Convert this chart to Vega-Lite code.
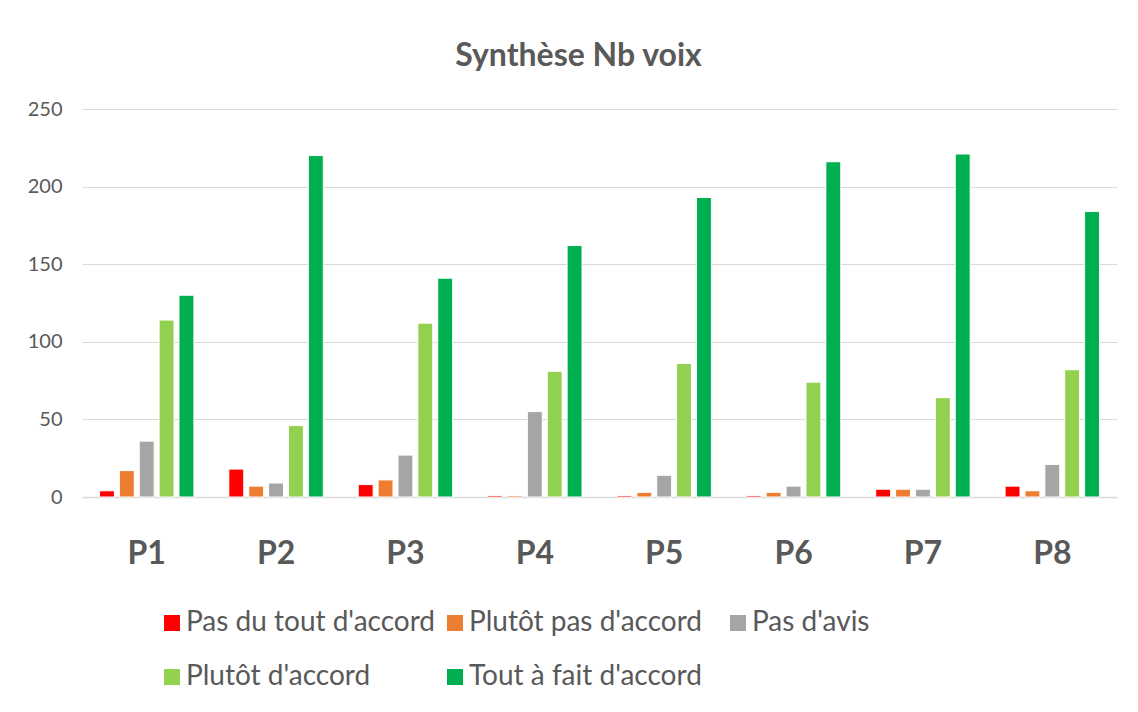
{
  "$schema": "https://vega.github.io/schema/vega-lite/v6.json",
  "autosize": "none",
  "width": 1035,
  "height": 388,
  "padding": {"left": 82, "top": 109, "right": 21, "bottom": 215},
  "background": "white",
  "title": {"text": "Synthèse Nb voix", "anchor": "middle", "dx": -21, "offset": 26, "font": "Lato", "fontSize": 32, "fontWeight": "bold", "color": "#595959"},
  "config": {"view": {"stroke": null}},
  "data": {"values": [
    {"q": "P1", "r": "Pas du tout d'accord", "v": 4},
    {"q": "P1", "r": "Plutôt pas d'accord", "v": 17},
    {"q": "P1", "r": "Pas d'avis", "v": 36},
    {"q": "P1", "r": "Plutôt d'accord", "v": 114},
    {"q": "P1", "r": "Tout à fait d'accord", "v": 130},
    {"q": "P2", "r": "Pas du tout d'accord", "v": 18},
    {"q": "P2", "r": "Plutôt pas d'accord", "v": 7},
    {"q": "P2", "r": "Pas d'avis", "v": 9},
    {"q": "P2", "r": "Plutôt d'accord", "v": 46},
    {"q": "P2", "r": "Tout à fait d'accord", "v": 220},
    {"q": "P3", "r": "Pas du tout d'accord", "v": 8},
    {"q": "P3", "r": "Plutôt pas d'accord", "v": 11},
    {"q": "P3", "r": "Pas d'avis", "v": 27},
    {"q": "P3", "r": "Plutôt d'accord", "v": 112},
    {"q": "P3", "r": "Tout à fait d'accord", "v": 141},
    {"q": "P4", "r": "Pas du tout d'accord", "v": 1},
    {"q": "P4", "r": "Plutôt pas d'accord", "v": 1},
    {"q": "P4", "r": "Pas d'avis", "v": 55},
    {"q": "P4", "r": "Plutôt d'accord", "v": 81},
    {"q": "P4", "r": "Tout à fait d'accord", "v": 162},
    {"q": "P5", "r": "Pas du tout d'accord", "v": 1},
    {"q": "P5", "r": "Plutôt pas d'accord", "v": 3},
    {"q": "P5", "r": "Pas d'avis", "v": 14},
    {"q": "P5", "r": "Plutôt d'accord", "v": 86},
    {"q": "P5", "r": "Tout à fait d'accord", "v": 193},
    {"q": "P6", "r": "Pas du tout d'accord", "v": 1},
    {"q": "P6", "r": "Plutôt pas d'accord", "v": 3},
    {"q": "P6", "r": "Pas d'avis", "v": 7},
    {"q": "P6", "r": "Plutôt d'accord", "v": 74},
    {"q": "P6", "r": "Tout à fait d'accord", "v": 216},
    {"q": "P7", "r": "Pas du tout d'accord", "v": 5},
    {"q": "P7", "r": "Plutôt pas d'accord", "v": 5},
    {"q": "P7", "r": "Pas d'avis", "v": 5},
    {"q": "P7", "r": "Plutôt d'accord", "v": 64},
    {"q": "P7", "r": "Tout à fait d'accord", "v": 221},
    {"q": "P8", "r": "Pas du tout d'accord", "v": 7},
    {"q": "P8", "r": "Plutôt pas d'accord", "v": 4},
    {"q": "P8", "r": "Pas d'avis", "v": 21},
    {"q": "P8", "r": "Plutôt d'accord", "v": 82},
    {"q": "P8", "r": "Tout à fait d'accord", "v": 184}
  ]},
  "mark": {"type": "bar", "stroke": "white", "strokeWidth": 1},
  "encoding": {
    "x": {
      "field": "q", "type": "nominal", "title": null,
      "scale": {"paddingInner": 0.27, "paddingOuter": 0.135},
      "axis": {"labelAngle": 0, "labelFont": "Lato", "labelFontSize": 32, "labelFontWeight": "bold", "labelColor": "#595959", "labelPadding": 41, "ticks": false, "domainColor": "#d9d9d9", "domainWidth": 1.5}
    },
    "xOffset": {
      "field": "r", "type": "nominal",
      "sort": ["Pas du tout d'accord", "Plutôt pas d'accord", "Pas d'avis", "Plutôt d'accord", "Tout à fait d'accord"],
      "scale": {"paddingInner": 0.25, "paddingOuter": 0}
    },
    "y": {
      "field": "v", "type": "quantitative", "title": null,
      "scale": {"domain": [0, 250]},
      "axis": {"values": [0, 50, 100, 150, 200, 250], "labelFont": "Lato", "labelFontSize": 20, "labelColor": "#595959", "labelPadding": 20, "ticks": false, "domain": false, "gridColor": "#d9d9d9", "gridWidth": 1}
    },
    "color": {
      "field": "r", "type": "nominal", "title": null,
      "sort": ["Pas du tout d'accord", "Plutôt pas d'accord", "Pas d'avis", "Plutôt d'accord", "Tout à fait d'accord"],
      "scale": {
        "domain": ["Pas du tout d'accord", "Plutôt pas d'accord", "Pas d'avis", "Plutôt d'accord", "Tout à fait d'accord"],
        "range": ["#ff0000", "#ed7d31", "#a5a5a5", "#92d050", "#00b050"]
      },
      "legend": {
        "orient": "none", "legendX": 76, "legendY": 500,
        "direction": "horizontal", "columns": 3, "gridAlign": "all",
        "symbolType": "square", "symbolSize": 256, "symbolStrokeWidth": 0,
        "labelFont": "Lato", "labelFontSize": 28, "labelColor": "#595959", "labelLimit": 400,
        "labelOffset": 0, "columnPadding": 5, "rowPadding": 26
      }
    }
  }
}
